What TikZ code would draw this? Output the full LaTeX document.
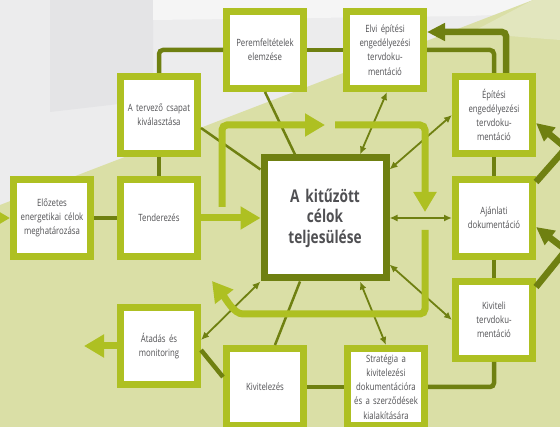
\documentclass[tikz,border=0pt]{standalone}
\usepackage{fontspec}
\setmainfont{Open Sans}[FakeStretch=0.78]
\usepackage{xcolor}
\usepackage{tikz}
\usetikzlibrary{arrows,arrows.meta,shapes,positioning}

\definecolor{boxgreen}{RGB}{174,192,34}
\definecolor{darkolive}{RGB}{111,128,17}
\definecolor{textgray}{RGB}{80,80,83}
\definecolor{bggray}{RGB}{236,236,237}
\definecolor{bgdark}{RGB}{228,228,230}
\definecolor{bglight}{RGB}{245,245,245}
\definecolor{bggreen}{RGB}{218,223,166}
\definecolor{bgpale}{RGB}{226,230,190}

\begin{document}
\begin{tikzpicture}[x=1pt,y=-1pt,
    box/.style={draw=boxgreen, line width=7pt, fill=white, minimum width=77pt, minimum height=77pt,
      text width=74pt, align=center, inner sep=0pt, text=textgray, font=\fontsize{10}{14.2}\selectfont},
    goal/.style={box, draw=darkolive, minimum width=122pt, minimum height=120pt, text width=110pt,
      font=\bfseries\fontsize{17.5}{20.5}\selectfont},
    link/.style={draw=darkolive, line width=4.5pt},
    spoke/.style={draw=darkolive, line width=2.5pt},
    both/.style={draw=darkolive, line width=1.8pt, {Latex[length=8pt,width=7pt]}-{Latex[length=8pt,width=7pt]}},
    flow/.style={draw=boxgreen, line width=7pt, -{Triangle[length=20pt,width=22pt]}},
    bigflow/.style={draw=darkolive, line width=6.5pt, rounded corners=4pt, -{Triangle[length=18pt,width=17pt]}}]
    \useasboundingbox (0,0) rectangle (560,427);
    \clip (0,0) rectangle (560,427);

    % background
    \fill[bggray] (0,0) rectangle (560,427);
    \fill[bgdark] (50,0) -- (153,0) -- (153,100) -- (50,112) -- cycle;
    \fill[bglight] (153,0) -- (560,0) -- (560,12) -- (470,16) -- (153,20) -- cycle;
    \fill[bggreen] (0,205) -- (533,0) -- (560,0) -- (560,427) -- (0,427) -- cycle;
    \fill[bgpale] (470,33) -- (533,0) -- (560,0) -- (560,40) -- cycle;

    % boxes
    \node[box] (perem) at (265,50) {Peremfeltételek\\elemzése};
    \node[box] (elvi) at (385,50) {Elvi építési\\engedélyezési\\tervdoku-\\mentáció};
    \node[box] (tervezo) at (159,115) {A tervező csapat\\kiválasztása};
    \node[box] (epitesi) at (494,115) {Építési\\engedélyezési\\tervdoku-\\mentáció};
    \node[box] (elozetes) at (52,218) {Előzetes\\energetikai célok\\meghatározása};
    \node[box] (tender) at (159,218) {Tenderezés};
    \node[goal] (cel) at (325,218) {A kitűzött\\célok\\teljesülése};
    \node[box] (ajanlati) at (494,218) {Ajánlati\\dokumentáció};
    \node[box] (kiviteli) at (494,320) {Kiviteli\\tervdoku-\\mentáció};
    \node[box] (atadas) at (159,346) {Átadás és\\monitoring};
    \node[box] (kivitel) at (265,387) {Kivitelezés};
    \node[box] (strategia) at (386,387) {Stratégia a\\kivitelezési\\dokumentációra\\és a szerződések\\kialakítására};

    % links between boxes
    \draw[link, rounded corners=4pt] (tervezo) |- (perem);
    \draw[link] (perem) -- (elvi);
    \draw[link, rounded corners=4pt] (elvi) -| (epitesi);
    \draw[link] (tervezo) -- (tender);
    \draw[link] (elozetes) -- (tender);
    \draw[link] (epitesi) -- (ajanlati);
    \draw[link] (ajanlati) -- (kiviteli);
    \draw[link] (kivitel) -- (strategia);
    \draw[link, rounded corners=4pt] (strategia) -| (kiviteli);
    \draw[link] ([yshift=-4pt]atadas.east) -- ([yshift=10pt]kivitel.west);

    % spokes to the goal
    \draw[spoke] ([yshift=-13pt]tervezo.east) -- ([yshift=-15pt]cel.north west);
    \draw[spoke] (perem.south) -- ([xshift=-30pt]cel.north);
    \draw[spoke] ([xshift=-25pt]cel.south) -- ([xshift=10pt]kivitel.north);
    \draw[both] ([xshift=2pt]elvi.south) -- ([xshift=35pt]cel.north);
    \draw[both] (epitesi.west) -- ([yshift=-15pt]cel.north east);
    \draw[both] (ajanlati) -- (cel);
    \draw[both] (kiviteli.west) -- ([yshift=17pt]cel.south east);
    \draw[both] (strategia.north) -- ([xshift=35pt]cel.south);
    \draw[both] ([yshift=6pt]atadas.east) -- (cel.south west);

    % light green flow
    \coordinate (inflow) at (-12,218);
    \coordinate (outflow) at (84,346);
    \coordinate (loopA) at (222,207);
    \coordinate (loopB) at (325,125);
    \coordinate (loopC) at (335,125);
    \coordinate (loopD) at (425,212);
    \coordinate (loopE) at (425,230);
    \coordinate (loopbend) at (248,314);
    \coordinate (loopF) at (212,281);
    \draw[flow] (inflow) -- (elozetes);
    \draw[flow] (tender) -- (cel);
    \draw[flow] (atadas) -- (outflow);
    \draw[flow, rounded corners=5pt] (loopA) |- (loopB);
    \draw[flow, rounded corners=5pt] (loopC) -| (loopD);
    \draw[flow, rounded corners=5pt] (loopE) |- (loopbend) .. controls (234,314) and (226,299) .. (loopF);

    % dark feedback arrows
    \coordinate (bendA) at (566,148);
    \coordinate (bendB) at (566,250);
    \draw[bigflow] ([xshift=12pt]epitesi.north) |- ([yshift=18pt]elvi.east);
    \draw[bigflow] ([yshift=-6pt]ajanlati.north east) -- (bendA) -- ([yshift=-8pt]epitesi.east);
    \draw[bigflow] ([yshift=-9pt]kiviteli.north east) -- (bendB) -- ([yshift=-9pt]ajanlati.east);
\end{tikzpicture}
\end{document}
